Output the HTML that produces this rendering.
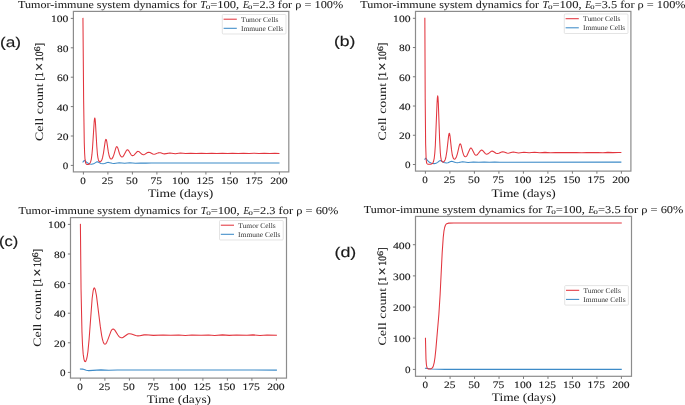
<!DOCTYPE html>
<html><head><meta charset="utf-8"><style>
html,body{margin:0;padding:0;background:#fff;}
body{width:685px;height:405px;overflow:hidden;}
svg{display:block;will-change:transform;}
text{font-family:"Liberation Serif",serif;fill:#1a1a1a;white-space:pre;text-rendering:geometricPrecision;stroke:#1a1a1a;stroke-width:0.12px;}
text.lg{fill:#333;stroke:none;}
text.yl{stroke:none;fill:#222;}
text.tt{stroke-width:0.05px;}
text.ym{stroke-width:0.25px;}
text.xl{stroke-width:0.03px;}
text.pl{font-family:"Liberation Sans",sans-serif;stroke-width:0.15px;}
</style></head><body>
<svg width="685" height="405" viewBox="0 0 685 405">
<rect width="685" height="405" fill="#fff"/>
<g><polyline points="82.95,162.02 84.08,160.65 84.67,160.45 86.97,162.53 88.14,163.33 89.81,164.00 91.57,164.24 93.58,163.83 96.33,162.08 97.21,161.83 98.04,162.02 100.98,163.40 103.09,163.76 104.61,163.57 107.30,162.58 108.43,162.39 112.25,163.28 113.97,163.46 119.26,162.68 124.65,163.29 129.94,162.83 135.33,163.18 140.67,162.92 145.96,163.13 151.31,162.96 156.60,163.09 278.95,163.03" fill="none" stroke="#3d8bc8" stroke-width="1.05" stroke-linejoin="round" stroke-linecap="square"/>
<polyline points="82.95,18.40 83.64,100.73 84.27,142.42 84.62,153.03 85.01,159.17 85.55,162.62 85.94,163.63 86.48,164.26 87.16,164.55 88.05,164.54 88.83,164.29 89.52,163.78 90.55,162.20 91.28,159.37 91.92,154.69 92.51,148.16 94.17,121.92 94.51,118.78 94.81,117.97 95.10,119.12 95.45,122.72 96.77,146.04 97.45,154.44 97.89,157.61 98.43,159.92 99.02,161.27 99.81,161.86 100.54,161.71 101.28,160.96 101.91,159.71 102.50,157.93 103.48,153.12 105.15,141.68 105.59,139.91 105.98,139.38 106.37,139.90 106.76,141.45 108.33,151.89 109.12,155.75 110.00,158.15 110.49,158.78 111.08,159.07 112.01,158.65 112.99,157.10 113.92,154.59 115.78,148.13 116.32,146.96 116.81,146.60 117.25,146.89 117.79,147.97 119.45,153.48 120.19,155.33 121.02,156.57 121.91,157.02 122.69,156.76 123.47,155.97 126.27,150.77 126.85,150.03 127.44,149.76 127.98,149.95 128.57,150.59 131.12,154.79 131.85,155.41 132.64,155.63 133.27,155.50 133.96,155.09 136.75,152.03 137.44,151.54 138.08,151.38 139.30,151.86 142.04,154.36 143.37,154.78 144.69,154.39 147.53,152.51 148.76,152.20 149.98,152.49 152.78,153.99 154.05,154.24 155.32,154.01 158.07,152.86 159.29,152.67 160.57,152.84 163.31,153.73 164.54,153.87 169.93,152.95 175.31,153.69 180.36,153.08 185.61,153.59 190.85,153.15 196.09,153.54 201.43,153.21 206.63,153.50 211.82,153.25 216.82,153.47 222.40,153.25 227.70,153.47 232.35,153.27 238.18,153.45 243.33,153.26 249.06,153.46 253.91,153.25 259.01,153.47 264.10,153.27 269.74,153.45 274.83,153.23 278.95,153.45" fill="none" stroke="#e2353e" stroke-width="1.05" stroke-linejoin="round" stroke-linecap="square"/>
<rect x="73.4" y="11.4" width="215.40" height="160.50" fill="none" stroke="#8c8c8c" stroke-width="1.2"/>
<line x1="83.40" y1="171.9" x2="83.40" y2="174.50" stroke="#7a7a7a" stroke-width="1.0"/>
<text x="80.24" y="183.80" font-size="9.80" textLength="5.53" lengthAdjust="spacingAndGlyphs">0</text>
<line x1="107.90" y1="171.9" x2="107.90" y2="174.50" stroke="#7a7a7a" stroke-width="1.0"/>
<text x="101.76" y="183.80" font-size="9.80" textLength="11.45" lengthAdjust="spacingAndGlyphs">25</text>
<line x1="132.40" y1="171.9" x2="132.40" y2="174.50" stroke="#7a7a7a" stroke-width="1.0"/>
<text x="126.12" y="183.80" font-size="9.80" textLength="11.54" lengthAdjust="spacingAndGlyphs">50</text>
<line x1="156.90" y1="171.9" x2="156.90" y2="174.50" stroke="#7a7a7a" stroke-width="1.0"/>
<text x="150.56" y="183.80" font-size="9.80" textLength="11.59" lengthAdjust="spacingAndGlyphs">75</text>
<line x1="181.40" y1="171.9" x2="181.40" y2="174.50" stroke="#7a7a7a" stroke-width="1.0"/>
<text x="171.98" y="183.80" font-size="9.80" textLength="17.45" lengthAdjust="spacingAndGlyphs">100</text>
<line x1="205.90" y1="171.9" x2="205.90" y2="174.50" stroke="#7a7a7a" stroke-width="1.0"/>
<text x="196.53" y="183.80" font-size="9.80" textLength="17.38" lengthAdjust="spacingAndGlyphs">125</text>
<line x1="230.40" y1="171.9" x2="230.40" y2="174.50" stroke="#7a7a7a" stroke-width="1.0"/>
<text x="220.98" y="183.80" font-size="9.80" textLength="17.45" lengthAdjust="spacingAndGlyphs">150</text>
<line x1="254.90" y1="171.9" x2="254.90" y2="174.50" stroke="#7a7a7a" stroke-width="1.0"/>
<text x="245.53" y="183.80" font-size="9.80" textLength="17.38" lengthAdjust="spacingAndGlyphs">175</text>
<line x1="279.40" y1="171.9" x2="279.40" y2="174.50" stroke="#7a7a7a" stroke-width="1.0"/>
<text x="270.25" y="183.80" font-size="9.80" textLength="17.44" lengthAdjust="spacingAndGlyphs">200</text>
<line x1="70.80" y1="165.40" x2="73.4" y2="165.40" stroke="#7a7a7a" stroke-width="1.0"/>
<text x="62.89" y="169.30" font-size="9.80" textLength="5.53" lengthAdjust="spacingAndGlyphs">0</text>
<line x1="70.80" y1="136.00" x2="73.4" y2="136.00" stroke="#7a7a7a" stroke-width="1.0"/>
<text x="56.91" y="139.90" font-size="9.80" textLength="11.52" lengthAdjust="spacingAndGlyphs">20</text>
<line x1="70.80" y1="106.60" x2="73.4" y2="106.60" stroke="#7a7a7a" stroke-width="1.0"/>
<text x="56.82" y="110.50" font-size="9.80" textLength="11.62" lengthAdjust="spacingAndGlyphs">40</text>
<line x1="70.80" y1="77.20" x2="73.4" y2="77.20" stroke="#7a7a7a" stroke-width="1.0"/>
<text x="56.91" y="81.10" font-size="9.80" textLength="11.52" lengthAdjust="spacingAndGlyphs">60</text>
<line x1="70.80" y1="47.80" x2="73.4" y2="47.80" stroke="#7a7a7a" stroke-width="1.0"/>
<text x="56.97" y="51.70" font-size="9.80" textLength="11.46" lengthAdjust="spacingAndGlyphs">80</text>
<line x1="70.80" y1="18.40" x2="73.4" y2="18.40" stroke="#7a7a7a" stroke-width="1.0"/>
<text x="50.99" y="22.30" font-size="9.80" textLength="17.45" lengthAdjust="spacingAndGlyphs">100</text>
<rect x="222.3" y="14.5" width="63.7" height="19.5" rx="1" fill="#fff" fill-opacity="0.8" stroke="#d8d8d8" stroke-width="0.7"/>
<line x1="223.60" y1="19.20" x2="236.80" y2="19.20" stroke="#e2353e" stroke-width="1.05"/>
<line x1="223.60" y1="28.30" x2="236.80" y2="28.30" stroke="#3d8bc8" stroke-width="1.05"/>
<text x="241.07" y="21.80" font-size="7.25" class="lg" textLength="37.41" lengthAdjust="spacingAndGlyphs">Tumor Cells</text>
<text x="240.94" y="30.90" font-size="7.25" class="lg" textLength="42.23" lengthAdjust="spacingAndGlyphs">Immune Cells</text>
<text x="18.09" y="7.80" font-size="10.60" class="tt" textLength="178.71" lengthAdjust="spacingAndGlyphs">Tumor-immune system dynamics for</text>
<text x="200.20" y="7.80" font-size="10.60" font-style="italic" class="tt" textLength="5.97" lengthAdjust="spacingAndGlyphs">T</text>
<text x="205.66" y="8.90" font-size="5.70" class="tt" textLength="4.59" lengthAdjust="spacingAndGlyphs">0</text>
<text x="210.17" y="7.80" font-size="10.60" class="tt" textLength="29.10" lengthAdjust="spacingAndGlyphs">=100,</text>
<text x="243.02" y="7.80" font-size="10.60" font-style="italic" class="tt" textLength="5.83" lengthAdjust="spacingAndGlyphs">E</text>
<text x="247.97" y="8.90" font-size="5.70" class="tt" textLength="4.35" lengthAdjust="spacingAndGlyphs">0</text>
<text x="252.48" y="7.80" font-size="10.60" class="tt" textLength="90.73" lengthAdjust="spacingAndGlyphs">=2.3 for ρ = 100%</text>
<text x="147.96" y="196.70" font-size="11.60" class="xl" textLength="65.30" lengthAdjust="spacingAndGlyphs">Time (days)</text>
<g transform="translate(43.40,0) rotate(-90)"><text x="-140.96" y="0.00" font-size="11.30" class="yl" textLength="57.64" lengthAdjust="spacingAndGlyphs">Cell count</text>
<text x="-80.76" y="0.00" font-size="11.30" class="ym" textLength="8.48" lengthAdjust="spacingAndGlyphs">[1</text>
<text x="-71.07" y="0.90" font-size="14.50" class="ym" textLength="8.22" lengthAdjust="spacingAndGlyphs">×</text>
<text x="-61.15" y="0.00" font-size="11.30" class="ym" textLength="9.71" lengthAdjust="spacingAndGlyphs">10</text>
<text x="-51.64" y="-3.30" font-size="8.40" class="ym" textLength="5.15" lengthAdjust="spacingAndGlyphs">6</text>
<text x="-46.34" y="0.00" font-size="11.30" class="ym" textLength="3.26" lengthAdjust="spacingAndGlyphs">]</text></g>
<text x="0.02" y="46.70" font-size="14.20" class="pl" textLength="21.11" lengthAdjust="spacingAndGlyphs">(a)</text></g>
<g><polyline points="424.85,159.38 425.49,158.35 425.88,158.23 427.94,160.96 429.46,162.29 431.56,163.23 434.06,163.61 435.34,163.50 436.46,163.12 437.64,162.38 439.40,160.89 440.19,160.61 440.92,160.81 443.91,162.54 446.31,163.02 447.98,162.77 450.67,161.54 451.70,161.34 455.57,162.45 457.39,162.67 458.81,162.53 462.63,161.71 468.12,162.45 473.36,161.90 478.80,162.33 484.14,162.00 489.38,162.25 494.72,162.06 499.97,162.21 620.85,162.14" fill="none" stroke="#3d8bc8" stroke-width="1.05" stroke-linejoin="round" stroke-linecap="square"/>
<polyline points="424.85,18.30 425.19,98.84 425.63,143.87 426.17,159.68 426.61,162.77 426.91,163.52 427.35,164.00 428.33,164.29 430.19,164.29 431.42,164.06 432.30,163.57 432.93,162.81 433.42,161.76 434.21,158.29 434.80,153.12 435.34,145.32 437.00,104.03 437.34,98.13 437.69,95.85 437.98,97.38 438.32,103.00 439.60,139.08 440.33,152.77 440.73,156.85 441.22,159.65 441.85,161.29 442.69,162.03 443.62,161.91 444.45,161.11 445.18,159.65 445.82,157.48 446.85,151.34 448.57,136.12 448.96,133.95 449.30,133.21 449.64,133.85 450.04,136.09 451.46,149.38 452.24,154.74 453.22,158.07 453.76,158.88 454.40,159.21 454.94,159.08 455.47,158.59 456.50,156.64 457.43,153.54 459.25,145.56 459.74,144.22 460.23,143.76 460.67,144.19 461.11,145.34 462.73,152.11 463.51,154.64 464.39,156.26 465.32,156.84 466.16,156.53 466.99,155.55 469.78,149.20 470.37,148.33 470.91,148.07 471.40,148.29 471.94,148.99 474.49,154.09 475.27,154.89 476.10,155.18 476.79,155.02 477.48,154.52 480.32,150.85 480.95,150.32 481.59,150.12 482.18,150.26 482.77,150.68 485.36,153.64 486.05,154.06 486.74,154.22 488.01,153.81 490.85,151.58 492.18,151.12 493.35,151.45 496.00,153.21 497.37,153.56 498.79,153.24 501.58,151.91 502.76,151.70 504.03,151.91 506.83,153.01 508.05,153.18 509.23,153.03 512.02,152.16 513.25,152.02 518.49,152.91 523.88,152.23 529.17,152.78 534.56,152.33 539.75,152.69 545.00,152.39 550.54,152.66 555.44,152.40 560.73,152.64 565.97,152.43 572.00,152.64 576.46,152.40 581.70,152.65 586.80,152.43 592.23,152.63 597.97,152.40 602.97,152.66 607.77,152.39 612.96,152.64 618.06,152.43 620.85,152.51" fill="none" stroke="#e2353e" stroke-width="1.05" stroke-linejoin="round" stroke-linecap="square"/>
<rect x="415.5" y="11.4" width="215.40" height="159.70" fill="none" stroke="#8c8c8c" stroke-width="1.2"/>
<line x1="425.40" y1="171.1" x2="425.40" y2="173.70" stroke="#7a7a7a" stroke-width="1.0"/>
<text x="422.24" y="183.00" font-size="9.80" textLength="5.53" lengthAdjust="spacingAndGlyphs">0</text>
<line x1="449.90" y1="171.1" x2="449.90" y2="173.70" stroke="#7a7a7a" stroke-width="1.0"/>
<text x="443.76" y="183.00" font-size="9.80" textLength="11.45" lengthAdjust="spacingAndGlyphs">25</text>
<line x1="474.40" y1="171.1" x2="474.40" y2="173.70" stroke="#7a7a7a" stroke-width="1.0"/>
<text x="468.12" y="183.00" font-size="9.80" textLength="11.54" lengthAdjust="spacingAndGlyphs">50</text>
<line x1="498.90" y1="171.1" x2="498.90" y2="173.70" stroke="#7a7a7a" stroke-width="1.0"/>
<text x="492.56" y="183.00" font-size="9.80" textLength="11.59" lengthAdjust="spacingAndGlyphs">75</text>
<line x1="523.40" y1="171.1" x2="523.40" y2="173.70" stroke="#7a7a7a" stroke-width="1.0"/>
<text x="513.98" y="183.00" font-size="9.80" textLength="17.45" lengthAdjust="spacingAndGlyphs">100</text>
<line x1="547.90" y1="171.1" x2="547.90" y2="173.70" stroke="#7a7a7a" stroke-width="1.0"/>
<text x="538.53" y="183.00" font-size="9.80" textLength="17.38" lengthAdjust="spacingAndGlyphs">125</text>
<line x1="572.40" y1="171.1" x2="572.40" y2="173.70" stroke="#7a7a7a" stroke-width="1.0"/>
<text x="562.98" y="183.00" font-size="9.80" textLength="17.45" lengthAdjust="spacingAndGlyphs">150</text>
<line x1="596.90" y1="171.1" x2="596.90" y2="173.70" stroke="#7a7a7a" stroke-width="1.0"/>
<text x="587.53" y="183.00" font-size="9.80" textLength="17.38" lengthAdjust="spacingAndGlyphs">175</text>
<line x1="621.40" y1="171.1" x2="621.40" y2="173.70" stroke="#7a7a7a" stroke-width="1.0"/>
<text x="612.25" y="183.00" font-size="9.80" textLength="17.44" lengthAdjust="spacingAndGlyphs">200</text>
<line x1="412.90" y1="164.50" x2="415.5" y2="164.50" stroke="#7a7a7a" stroke-width="1.0"/>
<text x="404.99" y="168.40" font-size="9.80" textLength="5.53" lengthAdjust="spacingAndGlyphs">0</text>
<line x1="412.90" y1="135.26" x2="415.5" y2="135.26" stroke="#7a7a7a" stroke-width="1.0"/>
<text x="399.01" y="139.16" font-size="9.80" textLength="11.52" lengthAdjust="spacingAndGlyphs">20</text>
<line x1="412.90" y1="106.02" x2="415.5" y2="106.02" stroke="#7a7a7a" stroke-width="1.0"/>
<text x="398.92" y="109.92" font-size="9.80" textLength="11.62" lengthAdjust="spacingAndGlyphs">40</text>
<line x1="412.90" y1="76.78" x2="415.5" y2="76.78" stroke="#7a7a7a" stroke-width="1.0"/>
<text x="399.01" y="80.68" font-size="9.80" textLength="11.52" lengthAdjust="spacingAndGlyphs">60</text>
<line x1="412.90" y1="47.54" x2="415.5" y2="47.54" stroke="#7a7a7a" stroke-width="1.0"/>
<text x="399.07" y="51.44" font-size="9.80" textLength="11.46" lengthAdjust="spacingAndGlyphs">80</text>
<line x1="412.90" y1="18.30" x2="415.5" y2="18.30" stroke="#7a7a7a" stroke-width="1.0"/>
<text x="393.09" y="22.20" font-size="9.80" textLength="17.45" lengthAdjust="spacingAndGlyphs">100</text>
<rect x="564.3" y="14.0" width="63.7" height="19.5" rx="1" fill="#fff" fill-opacity="0.8" stroke="#d8d8d8" stroke-width="0.7"/>
<line x1="565.60" y1="18.70" x2="578.80" y2="18.70" stroke="#e2353e" stroke-width="1.05"/>
<line x1="565.60" y1="27.80" x2="578.80" y2="27.80" stroke="#3d8bc8" stroke-width="1.05"/>
<text x="583.07" y="21.30" font-size="7.25" class="lg" textLength="37.41" lengthAdjust="spacingAndGlyphs">Tumor Cells</text>
<text x="582.94" y="30.40" font-size="7.25" class="lg" textLength="42.23" lengthAdjust="spacingAndGlyphs">Immune Cells</text>
<text x="360.39" y="7.80" font-size="10.60" class="tt" textLength="178.71" lengthAdjust="spacingAndGlyphs">Tumor-immune system dynamics for</text>
<text x="542.50" y="7.80" font-size="10.60" font-style="italic" class="tt" textLength="5.97" lengthAdjust="spacingAndGlyphs">T</text>
<text x="547.96" y="8.90" font-size="5.70" class="tt" textLength="4.59" lengthAdjust="spacingAndGlyphs">0</text>
<text x="552.47" y="7.80" font-size="10.60" class="tt" textLength="29.10" lengthAdjust="spacingAndGlyphs">=100,</text>
<text x="585.32" y="7.80" font-size="10.60" font-style="italic" class="tt" textLength="5.83" lengthAdjust="spacingAndGlyphs">E</text>
<text x="590.27" y="8.90" font-size="5.70" class="tt" textLength="4.35" lengthAdjust="spacingAndGlyphs">0</text>
<text x="594.78" y="7.80" font-size="10.60" class="tt" textLength="90.83" lengthAdjust="spacingAndGlyphs">=3.5 for ρ = 100%</text>
<text x="491.57" y="196.90" font-size="11.60" class="xl" textLength="64.19" lengthAdjust="spacingAndGlyphs">Time (days)</text>
<g transform="translate(386.10,0) rotate(-90)"><text x="-140.56" y="0.00" font-size="11.30" class="yl" textLength="57.64" lengthAdjust="spacingAndGlyphs">Cell count</text>
<text x="-80.36" y="0.00" font-size="11.30" class="ym" textLength="8.48" lengthAdjust="spacingAndGlyphs">[1</text>
<text x="-70.67" y="0.90" font-size="14.50" class="ym" textLength="8.22" lengthAdjust="spacingAndGlyphs">×</text>
<text x="-60.75" y="0.00" font-size="11.30" class="ym" textLength="9.71" lengthAdjust="spacingAndGlyphs">10</text>
<text x="-51.24" y="-3.30" font-size="8.40" class="ym" textLength="5.15" lengthAdjust="spacingAndGlyphs">6</text>
<text x="-45.94" y="0.00" font-size="11.30" class="ym" textLength="3.26" lengthAdjust="spacingAndGlyphs">]</text></g>
<text x="334.00" y="45.90" font-size="14.20" class="pl" textLength="21.44" lengthAdjust="spacingAndGlyphs">(b)</text></g>
<g><polyline points="80.40,369.00 82.61,369.12 86.28,370.34 88.73,370.64 100.98,369.88 108.82,370.22 117.40,370.04 276.40,370.10" fill="none" stroke="#3d8bc8" stroke-width="1.05" stroke-linejoin="round" stroke-linecap="square"/>
<polyline points="80.40,224.40 81.04,288.90 81.97,331.97 82.51,344.73 83.19,354.13 83.98,359.32 84.47,360.89 84.96,361.57 85.35,361.61 85.74,361.25 86.53,359.40 87.21,356.37 87.90,351.79 89.12,339.15 92.16,298.23 93.19,290.53 93.73,288.56 94.27,287.92 94.76,288.33 95.30,289.73 96.47,295.62 100.25,326.18 101.67,335.62 102.45,339.30 103.23,341.96 103.97,343.53 104.75,344.20 105.19,344.17 105.68,343.86 106.62,342.58 107.69,340.15 110.93,331.33 112.00,329.59 112.54,329.16 113.08,329.00 113.92,329.27 114.80,330.12 117.88,334.99 119.11,336.55 120.33,337.51 121.51,337.85 122.34,337.73 123.28,337.30 127.49,334.27 128.57,333.85 129.64,333.70 131.41,333.98 135.67,335.57 137.88,335.87 139.84,335.71 144.05,334.88 146.01,334.74 153.36,335.36 163.11,334.97 170.56,335.33 178.74,334.95 185.26,335.51 191.88,334.91 201.04,335.33 208.53,334.91 214.71,335.43 222.45,334.86 229.21,335.39 236.51,334.99 247.00,335.27 252.93,334.86 260.03,335.43 267.09,334.95 276.40,335.25" fill="none" stroke="#e2353e" stroke-width="1.05" stroke-linejoin="round" stroke-linecap="square"/>
<rect x="70.5" y="217.6" width="216.00" height="160.50" fill="none" stroke="#8c8c8c" stroke-width="1.2"/>
<line x1="80.40" y1="378.1" x2="80.40" y2="380.70" stroke="#7a7a7a" stroke-width="1.0"/>
<text x="77.24" y="390.00" font-size="9.80" textLength="5.53" lengthAdjust="spacingAndGlyphs">0</text>
<line x1="104.90" y1="378.1" x2="104.90" y2="380.70" stroke="#7a7a7a" stroke-width="1.0"/>
<text x="98.76" y="390.00" font-size="9.80" textLength="11.45" lengthAdjust="spacingAndGlyphs">25</text>
<line x1="129.40" y1="378.1" x2="129.40" y2="380.70" stroke="#7a7a7a" stroke-width="1.0"/>
<text x="123.12" y="390.00" font-size="9.80" textLength="11.54" lengthAdjust="spacingAndGlyphs">50</text>
<line x1="153.90" y1="378.1" x2="153.90" y2="380.70" stroke="#7a7a7a" stroke-width="1.0"/>
<text x="147.56" y="390.00" font-size="9.80" textLength="11.59" lengthAdjust="spacingAndGlyphs">75</text>
<line x1="178.40" y1="378.1" x2="178.40" y2="380.70" stroke="#7a7a7a" stroke-width="1.0"/>
<text x="168.98" y="390.00" font-size="9.80" textLength="17.45" lengthAdjust="spacingAndGlyphs">100</text>
<line x1="202.90" y1="378.1" x2="202.90" y2="380.70" stroke="#7a7a7a" stroke-width="1.0"/>
<text x="193.53" y="390.00" font-size="9.80" textLength="17.38" lengthAdjust="spacingAndGlyphs">125</text>
<line x1="227.40" y1="378.1" x2="227.40" y2="380.70" stroke="#7a7a7a" stroke-width="1.0"/>
<text x="217.98" y="390.00" font-size="9.80" textLength="17.45" lengthAdjust="spacingAndGlyphs">150</text>
<line x1="251.90" y1="378.1" x2="251.90" y2="380.70" stroke="#7a7a7a" stroke-width="1.0"/>
<text x="242.53" y="390.00" font-size="9.80" textLength="17.38" lengthAdjust="spacingAndGlyphs">175</text>
<line x1="276.40" y1="378.1" x2="276.40" y2="380.70" stroke="#7a7a7a" stroke-width="1.0"/>
<text x="267.25" y="390.00" font-size="9.80" textLength="17.44" lengthAdjust="spacingAndGlyphs">200</text>
<line x1="67.90" y1="372.40" x2="70.5" y2="372.40" stroke="#7a7a7a" stroke-width="1.0"/>
<text x="59.99" y="376.30" font-size="9.80" textLength="5.53" lengthAdjust="spacingAndGlyphs">0</text>
<line x1="67.90" y1="342.80" x2="70.5" y2="342.80" stroke="#7a7a7a" stroke-width="1.0"/>
<text x="54.01" y="346.70" font-size="9.80" textLength="11.52" lengthAdjust="spacingAndGlyphs">20</text>
<line x1="67.90" y1="313.20" x2="70.5" y2="313.20" stroke="#7a7a7a" stroke-width="1.0"/>
<text x="53.92" y="317.10" font-size="9.80" textLength="11.62" lengthAdjust="spacingAndGlyphs">40</text>
<line x1="67.90" y1="283.60" x2="70.5" y2="283.60" stroke="#7a7a7a" stroke-width="1.0"/>
<text x="54.01" y="287.50" font-size="9.80" textLength="11.52" lengthAdjust="spacingAndGlyphs">60</text>
<line x1="67.90" y1="254.00" x2="70.5" y2="254.00" stroke="#7a7a7a" stroke-width="1.0"/>
<text x="54.07" y="257.90" font-size="9.80" textLength="11.46" lengthAdjust="spacingAndGlyphs">80</text>
<line x1="67.90" y1="224.40" x2="70.5" y2="224.40" stroke="#7a7a7a" stroke-width="1.0"/>
<text x="48.09" y="228.30" font-size="9.80" textLength="17.45" lengthAdjust="spacingAndGlyphs">100</text>
<rect x="219.5" y="220.5" width="63.7" height="19.5" rx="1" fill="#fff" fill-opacity="0.8" stroke="#d8d8d8" stroke-width="0.7"/>
<line x1="220.80" y1="225.20" x2="234.00" y2="225.20" stroke="#e2353e" stroke-width="1.05"/>
<line x1="220.80" y1="234.30" x2="234.00" y2="234.30" stroke="#3d8bc8" stroke-width="1.05"/>
<text x="238.27" y="227.80" font-size="7.25" class="lg" textLength="37.41" lengthAdjust="spacingAndGlyphs">Tumor Cells</text>
<text x="238.14" y="236.90" font-size="7.25" class="lg" textLength="42.23" lengthAdjust="spacingAndGlyphs">Immune Cells</text>
<text x="18.59" y="213.90" font-size="10.60" class="tt" textLength="178.71" lengthAdjust="spacingAndGlyphs">Tumor-immune system dynamics for</text>
<text x="200.70" y="213.90" font-size="10.60" font-style="italic" class="tt" textLength="5.97" lengthAdjust="spacingAndGlyphs">T</text>
<text x="206.16" y="215.00" font-size="5.70" class="tt" textLength="4.59" lengthAdjust="spacingAndGlyphs">0</text>
<text x="210.67" y="213.90" font-size="10.60" class="tt" textLength="29.10" lengthAdjust="spacingAndGlyphs">=100,</text>
<text x="243.52" y="213.90" font-size="10.60" font-style="italic" class="tt" textLength="5.83" lengthAdjust="spacingAndGlyphs">E</text>
<text x="248.47" y="215.00" font-size="5.70" class="tt" textLength="4.35" lengthAdjust="spacingAndGlyphs">0</text>
<text x="252.98" y="213.90" font-size="10.60" class="tt" textLength="85.44" lengthAdjust="spacingAndGlyphs">=2.3 for ρ = 60%</text>
<text x="146.87" y="402.90" font-size="11.60" class="xl" textLength="64.19" lengthAdjust="spacingAndGlyphs">Time (days)</text>
<g transform="translate(41.30,0) rotate(-90)"><text x="-346.76" y="0.00" font-size="11.30" class="yl" textLength="57.64" lengthAdjust="spacingAndGlyphs">Cell count</text>
<text x="-286.56" y="0.00" font-size="11.30" class="ym" textLength="8.48" lengthAdjust="spacingAndGlyphs">[1</text>
<text x="-276.87" y="0.90" font-size="14.50" class="ym" textLength="8.22" lengthAdjust="spacingAndGlyphs">×</text>
<text x="-266.95" y="0.00" font-size="11.30" class="ym" textLength="9.71" lengthAdjust="spacingAndGlyphs">10</text>
<text x="-257.44" y="-3.30" font-size="8.40" class="ym" textLength="5.15" lengthAdjust="spacingAndGlyphs">6</text>
<text x="-252.14" y="0.00" font-size="11.30" class="ym" textLength="3.26" lengthAdjust="spacingAndGlyphs">]</text></g>
<text x="-0.93" y="245.50" font-size="14.20" class="pl" textLength="19.24" lengthAdjust="spacingAndGlyphs">(c)</text></g>
<g><polyline points="425.45,368.31 431.57,369.10 444.69,369.36 621.25,369.37" fill="none" stroke="#3d8bc8" stroke-width="1.05" stroke-linejoin="round" stroke-linecap="square"/>
<polyline points="425.45,338.22 425.99,359.13 426.38,364.52 426.97,367.59 427.55,368.55 428.53,368.99 430.35,368.97 431.76,368.44 432.55,367.65 433.14,366.57 434.21,362.57 435.00,357.33 435.83,349.60 438.86,314.49 440.09,294.92 442.19,252.63 443.22,237.62 443.90,231.44 444.64,227.50 445.52,225.03 446.11,224.19 446.74,223.67 448.70,223.13 453.94,222.98 621.25,223.02" fill="none" stroke="#e2353e" stroke-width="1.05" stroke-linejoin="round" stroke-linecap="square"/>
<rect x="415.5" y="216.4" width="216.00" height="159.90" fill="none" stroke="#8c8c8c" stroke-width="1.2"/>
<line x1="425.60" y1="376.3" x2="425.60" y2="378.90" stroke="#7a7a7a" stroke-width="1.0"/>
<text x="422.44" y="388.20" font-size="9.80" textLength="5.53" lengthAdjust="spacingAndGlyphs">0</text>
<line x1="450.08" y1="376.3" x2="450.08" y2="378.90" stroke="#7a7a7a" stroke-width="1.0"/>
<text x="443.93" y="388.20" font-size="9.80" textLength="11.45" lengthAdjust="spacingAndGlyphs">25</text>
<line x1="474.55" y1="376.3" x2="474.55" y2="378.90" stroke="#7a7a7a" stroke-width="1.0"/>
<text x="468.27" y="388.20" font-size="9.80" textLength="11.54" lengthAdjust="spacingAndGlyphs">50</text>
<line x1="499.02" y1="376.3" x2="499.02" y2="378.90" stroke="#7a7a7a" stroke-width="1.0"/>
<text x="492.69" y="388.20" font-size="9.80" textLength="11.59" lengthAdjust="spacingAndGlyphs">75</text>
<line x1="523.50" y1="376.3" x2="523.50" y2="378.90" stroke="#7a7a7a" stroke-width="1.0"/>
<text x="514.08" y="388.20" font-size="9.80" textLength="17.45" lengthAdjust="spacingAndGlyphs">100</text>
<line x1="547.98" y1="376.3" x2="547.98" y2="378.90" stroke="#7a7a7a" stroke-width="1.0"/>
<text x="538.61" y="388.20" font-size="9.80" textLength="17.38" lengthAdjust="spacingAndGlyphs">125</text>
<line x1="572.45" y1="376.3" x2="572.45" y2="378.90" stroke="#7a7a7a" stroke-width="1.0"/>
<text x="563.03" y="388.20" font-size="9.80" textLength="17.45" lengthAdjust="spacingAndGlyphs">150</text>
<line x1="596.92" y1="376.3" x2="596.92" y2="378.90" stroke="#7a7a7a" stroke-width="1.0"/>
<text x="587.56" y="388.20" font-size="9.80" textLength="17.38" lengthAdjust="spacingAndGlyphs">175</text>
<line x1="621.40" y1="376.3" x2="621.40" y2="378.90" stroke="#7a7a7a" stroke-width="1.0"/>
<text x="612.25" y="388.20" font-size="9.80" textLength="17.44" lengthAdjust="spacingAndGlyphs">200</text>
<line x1="412.90" y1="369.40" x2="415.5" y2="369.40" stroke="#7a7a7a" stroke-width="1.0"/>
<text x="404.99" y="373.30" font-size="9.80" textLength="5.53" lengthAdjust="spacingAndGlyphs">0</text>
<line x1="412.90" y1="338.22" x2="415.5" y2="338.22" stroke="#7a7a7a" stroke-width="1.0"/>
<text x="393.09" y="342.12" font-size="9.80" textLength="17.45" lengthAdjust="spacingAndGlyphs">100</text>
<line x1="412.90" y1="307.05" x2="415.5" y2="307.05" stroke="#7a7a7a" stroke-width="1.0"/>
<text x="393.10" y="310.95" font-size="9.80" textLength="17.44" lengthAdjust="spacingAndGlyphs">200</text>
<line x1="412.90" y1="275.88" x2="415.5" y2="275.88" stroke="#7a7a7a" stroke-width="1.0"/>
<text x="393.11" y="279.77" font-size="9.80" textLength="17.43" lengthAdjust="spacingAndGlyphs">300</text>
<line x1="412.90" y1="244.70" x2="415.5" y2="244.70" stroke="#7a7a7a" stroke-width="1.0"/>
<text x="393.01" y="248.60" font-size="9.80" textLength="17.53" lengthAdjust="spacingAndGlyphs">400</text>
<rect x="564.7" y="285.6" width="63.7" height="19.5" rx="1" fill="#fff" fill-opacity="0.8" stroke="#d8d8d8" stroke-width="0.7"/>
<line x1="566.00" y1="290.30" x2="579.20" y2="290.30" stroke="#e2353e" stroke-width="1.05"/>
<line x1="566.00" y1="299.40" x2="579.20" y2="299.40" stroke="#3d8bc8" stroke-width="1.05"/>
<text x="583.47" y="292.90" font-size="7.25" class="lg" textLength="37.41" lengthAdjust="spacingAndGlyphs">Tumor Cells</text>
<text x="583.34" y="302.00" font-size="7.25" class="lg" textLength="42.23" lengthAdjust="spacingAndGlyphs">Immune Cells</text>
<text x="363.69" y="212.50" font-size="10.60" class="tt" textLength="178.71" lengthAdjust="spacingAndGlyphs">Tumor-immune system dynamics for</text>
<text x="545.80" y="212.50" font-size="10.60" font-style="italic" class="tt" textLength="5.97" lengthAdjust="spacingAndGlyphs">T</text>
<text x="551.26" y="213.60" font-size="5.70" class="tt" textLength="4.59" lengthAdjust="spacingAndGlyphs">0</text>
<text x="555.77" y="212.50" font-size="10.60" class="tt" textLength="29.10" lengthAdjust="spacingAndGlyphs">=100,</text>
<text x="588.62" y="212.50" font-size="10.60" font-style="italic" class="tt" textLength="5.83" lengthAdjust="spacingAndGlyphs">E</text>
<text x="593.57" y="213.60" font-size="5.70" class="tt" textLength="4.35" lengthAdjust="spacingAndGlyphs">0</text>
<text x="598.08" y="212.50" font-size="10.60" class="tt" textLength="85.34" lengthAdjust="spacingAndGlyphs">=3.5 for ρ = 60%</text>
<text x="491.87" y="401.20" font-size="11.60" class="xl" textLength="64.19" lengthAdjust="spacingAndGlyphs">Time (days)</text>
<g transform="translate(386.30,0) rotate(-90)"><text x="-345.46" y="0.00" font-size="11.30" class="yl" textLength="57.64" lengthAdjust="spacingAndGlyphs">Cell count</text>
<text x="-285.26" y="0.00" font-size="11.30" class="ym" textLength="8.48" lengthAdjust="spacingAndGlyphs">[1</text>
<text x="-275.57" y="0.90" font-size="14.50" class="ym" textLength="8.22" lengthAdjust="spacingAndGlyphs">×</text>
<text x="-265.65" y="0.00" font-size="11.30" class="ym" textLength="9.71" lengthAdjust="spacingAndGlyphs">10</text>
<text x="-256.14" y="-3.30" font-size="8.40" class="ym" textLength="5.15" lengthAdjust="spacingAndGlyphs">6</text>
<text x="-250.84" y="0.00" font-size="11.30" class="ym" textLength="3.26" lengthAdjust="spacingAndGlyphs">]</text></g>
<text x="334.49" y="257.30" font-size="14.20" class="pl" textLength="21.78" lengthAdjust="spacingAndGlyphs">(d)</text></g>
</svg></body></html>
